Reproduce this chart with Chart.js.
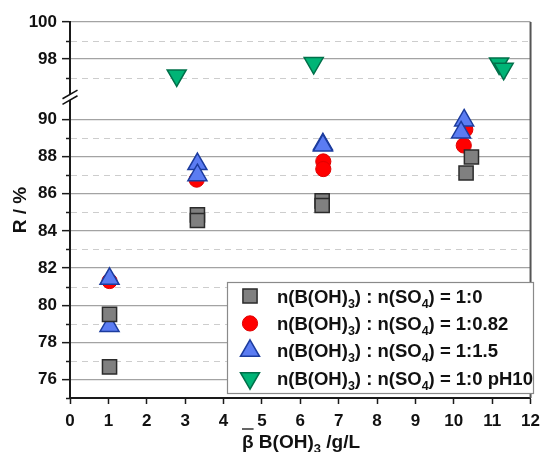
<!DOCTYPE html>
<html>
<head>
<meta charset="utf-8">
<script src="https://cdn.jsdelivr.net/npm/chart.js@4/dist/chart.umd.min.js"></script>
<style>
  body { margin: 0; background: #fff; }
  canvas { display: block; }
</style>
</head>
<body>
<canvas id="chart" width="547" height="452"></canvas>
<script>
// Values (x = beta B(OH)3 in g/L, y = R in %)
const grayX = [1.03, 1.03, 3.32, 3.32, 6.57, 6.57, 10.32, 10.46];
const grayY = [79.5, 76.68, 84.86, 84.56, 85.62, 85.37, 87.12, 87.98];

const redX = [1.03, 3.3, 6.6, 6.6, 10.26, 10.3];
const redY = [81.3, 86.76, 87.74, 87.33, 88.6, 89.46];

const blueX = [1.03, 1.03, 3.32, 3.32, 6.59, 6.59, 10.27, 10.19];
const blueY = [81.42, 78.88, 87.6, 87.0, 88.66, 88.6, 89.95, 89.3];

const greenX = [2.78, 6.35, 11.18, 11.3];
const greenY = [97.12, 97.79, 97.77, 97.48];

const ratioLabels = ['1:0', '1:0.82', '1:1.5', '1:0 pH10'];

// axis ranges: lower segment and upper segment of the broken y axis
const lowerRange = [75, 91.25];
const upperRange = [96, 100];
const xRange = [0, 12];

const FONT = '"Liberation Sans", Arial, sans-serif';

const toPoints = (xs, ys) => xs.map((x, i) => ({ x, y: ys[i] }));

const seriesStyles = [
  { pointStyle: 'rect', radius: 10, rotation: 0, fill: '#808080', stroke: '#2b2b2b', width: 1.5 },
  { pointStyle: 'circle', radius: 7.6, rotation: 0, fill: '#ff0000', stroke: '#e00000', width: 1 },
  { pointStyle: 'triangle', radius: 11, rotation: 0, fill: '#5b7cf2', stroke: '#1c3c9e', width: 1.5 },
  { pointStyle: 'triangle', radius: 11, rotation: 180, fill: '#00b476', stroke: '#00704a', width: 1.5 }
];

function makeDataset(label, xs, ys, style, axis, order) {
  return {
    label,
    data: toPoints(xs, ys),
    yAxisID: axis,
    order,
    pointStyle: style.pointStyle,
    pointRadius: style.radius,
    pointHoverRadius: style.radius,
    rotation: style.rotation,
    backgroundColor: style.fill,
    borderColor: style.stroke,
    pointBorderWidth: style.width,
    showLine: false
  };
}

const isEven = v => Math.abs(Math.round(v) % 2) === 0;

function majorLower(v) { return isEven(v) && v >= 76 && v <= 90; }
function majorUpper(v) { return v === 98 || v === 100; }

const yScaleBase = (range, isMajor, weight) => ({
  type: 'linear',
  position: 'left',
  stack: 'r',
  stackWeight: weight,
  min: range[0],
  max: range[1],
  border: { display: true, color: '#1a1a1a', width: 2 },
  grid: {
    color: c => isMajor(c.tick.value) ? '#a3a3a3' : 'rgba(0,0,0,0)',
    lineWidth: 1.3,
    tickColor: c => isMajor(c.tick.value) ? '#1a1a1a' : 'rgba(0,0,0,0)',
    tickLength: 8,
    tickWidth: 1.5
  },
  ticks: {
    stepSize: 1,
    autoSkip: false,
    includeBounds: false,
    padding: 5,
    color: '#111',
    font: { family: FONT, size: 17, weight: 'bold' },
    callback: v => isMajor(v) ? String(v) : ''
  },
  afterFit: s => { s.width = 70; }
});

function drawRich(ctx, parts, x, y, size, subSize, subDrop) {
  parts.forEach(([text, sub]) => {
    ctx.font = 'bold ' + (sub ? subSize : size) + 'px ' + FONT;
    ctx.fillText(text, x, sub ? y + subDrop : y);
    x += ctx.measureText(text).width;
  });
  return x;
}

function richWidth(ctx, parts, size, subSize) {
  let w = 0;
  parts.forEach(([text, sub]) => {
    ctx.font = 'bold ' + (sub ? subSize : size) + 'px ' + FONT;
    w += ctx.measureText(text).width;
  });
  return w;
}

function marker(ctx, style, x, y) {
  ctx.save();
  ctx.fillStyle = style.fill;
  ctx.strokeStyle = style.stroke;
  ctx.lineWidth = style.width;
  Chart.helpers.drawPoint(ctx, {
    pointStyle: style.pointStyle,
    radius: style.radius,
    rotation: style.rotation,
    borderWidth: style.width
  }, x, y);
  ctx.restore();
}

const decorPlugin = {
  id: 'decor',
  beforeDatasetsDraw(chart) {
    const { ctx, chartArea: area } = chart;
    ctx.save();
    ctx.strokeStyle = '#cdcdcd';
    ctx.lineWidth = 1;
    ctx.setLineDash([6, 5]);
    [chart.scales.y, chart.scales.y2].forEach(scale => {
      scale.ticks.forEach(t => {
        const v = t.value;
        const skip = isEven(v) || v === 75 || v === 91;
        if (skip) return;
        const py = Math.round(scale.getPixelForValue(v)) + 0.5;
        ctx.beginPath();
        ctx.moveTo(area.left + 1, py);
        ctx.lineTo(area.right, py);
        ctx.stroke();
      });
    });
    ctx.restore();
  },
  afterDraw(chart) {
    const { ctx, chartArea: area } = chart;
    const yLow = chart.scales.y, yUp = chart.scales.y2;
    ctx.save();

    // right frame line
    ctx.strokeStyle = '#555';
    ctx.lineWidth = 2;
    ctx.beginPath();
    ctx.moveTo(area.right, area.top);
    ctx.lineTo(area.right, area.bottom);
    ctx.stroke();

    // minor ticks on the y axis
    ctx.strokeStyle = '#1a1a1a';
    ctx.lineWidth = 1.5;
    [yLow, yUp].forEach(scale => {
      scale.ticks.forEach(t => {
        const v = t.value;
        if (isEven(v) || v === 91) return;
        const py = Math.round(scale.getPixelForValue(v)) + 0.5;
        ctx.beginPath();
        ctx.moveTo(area.left - 4, py);
        ctx.lineTo(area.left, py);
        ctx.stroke();
      });
    });

    // axis break
    const yb = yUp.bottom + 1;
    const lx = area.left;
    ctx.fillStyle = '#fff';
    ctx.beginPath();
    ctx.moveTo(lx - 8, yb + 2.5 + 4.5);
    ctx.lineTo(lx + 8, yb + 2.5 - 4.5);
    ctx.lineTo(lx + 8, yb - 2.5 - 4.5);
    ctx.lineTo(lx - 8, yb - 2.5 + 4.5);
    ctx.closePath();
    ctx.fill();
    ctx.strokeStyle = '#111';
    ctx.lineWidth = 1.5;
    [-2.8, 2.8].forEach(off => {
      ctx.beginPath();
      ctx.moveTo(lx - 7.5, yb + off + 4.3);
      ctx.lineTo(lx + 7.5, yb + off - 4.3);
      ctx.stroke();
    });

    // y title
    ctx.fillStyle = '#111';
    ctx.save();
    ctx.translate(21, (area.top + area.bottom) / 2);
    ctx.rotate(-Math.PI / 2);
    ctx.font = 'bold 19px ' + FONT;
    ctx.textAlign = 'center';
    ctx.textBaseline = 'middle';
    ctx.fillText('R / %', 0, 0);
    ctx.restore();

    // x title
    ctx.textAlign = 'left';
    ctx.textBaseline = 'alphabetic';
    const xParts = [['β', false], [' B(OH)', false], ['3', true], [' /g/L', false]];
    const xw = richWidth(ctx, xParts, 19, 13);
    const x0 = 301 - xw / 2;
    const base = 448;
    ctx.font = 'bold 19px ' + FONT;
    const bw = ctx.measureText('β').width;
    drawRich(ctx, xParts, x0, base, 19, 13, 5);
    ctx.strokeStyle = '#111';
    ctx.lineWidth = 1.3;
    ctx.beginPath();
    ctx.moveTo(x0, base - 19);
    ctx.lineTo(x0 + bw, base - 19);
    ctx.stroke();

    // legend
    const box = { x: 227.5, y: 282.5, w: 306, h: 111 };
    ctx.fillStyle = '#fff';
    ctx.fillRect(box.x, box.y, box.w, box.h);
    ctx.strokeStyle = '#8a8a8a';
    ctx.lineWidth = 1.2;
    ctx.strokeRect(box.x, box.y, box.w, box.h);
    ratioLabels.forEach((r, i) => {
      const cy = 296 + i * 27.4;
      marker(ctx, seriesStyles[i], 250, cy);
      ctx.fillStyle = '#111';
      ctx.textBaseline = 'alphabetic';
      drawRich(ctx, [['n(B(OH)', false], ['3', true], [') : n(SO', false], ['4', true], [') = ' + r, false]],
        277, cy + 6.5, 18.5, 12.5, 5);
    });

    ctx.restore();
  }
};

new Chart(document.getElementById('chart'), {
  type: 'scatter',
  data: {
    datasets: [
      makeDataset('1:0', grayX, grayY, seriesStyles[0], 'y', 0),
      makeDataset('1:0.82', redX, redY, seriesStyles[1], 'y', 2),
      makeDataset('1:1.5', blueX, blueY, seriesStyles[2], 'y', 1),
      makeDataset('1:0 pH10', greenX, greenY, seriesStyles[3], 'y2', 3)
    ]
  },
  options: {
    responsive: false,
    animation: false,
    devicePixelRatio: 1,
    layout: { padding: { left: 0, right: 11, top: 22, bottom: 0 } },
    plugins: {
      legend: { display: false },
      tooltip: { enabled: false }
    },
    scales: {
      x: {
        type: 'linear',
        min: xRange[0],
        max: xRange[1],
        border: { display: true, color: '#1a1a1a', width: 2 },
        grid: { drawOnChartArea: false, tickLength: 6, tickColor: '#1a1a1a', tickWidth: 1.5 },
        ticks: {
          stepSize: 1,
          autoSkip: false,
          maxRotation: 0,
          padding: 7,
          color: '#111',
          font: { family: FONT, size: 17, weight: 'bold' }
        },
        afterFit: s => { s.height = 54; }
      },
      y: yScaleBase(lowerRange, majorLower, lowerRange[1] - lowerRange[0]),
      y2: yScaleBase(upperRange, majorUpper, upperRange[1] - upperRange[0])
    }
  },
  plugins: [decorPlugin]
});
</script>
</body>
</html>
